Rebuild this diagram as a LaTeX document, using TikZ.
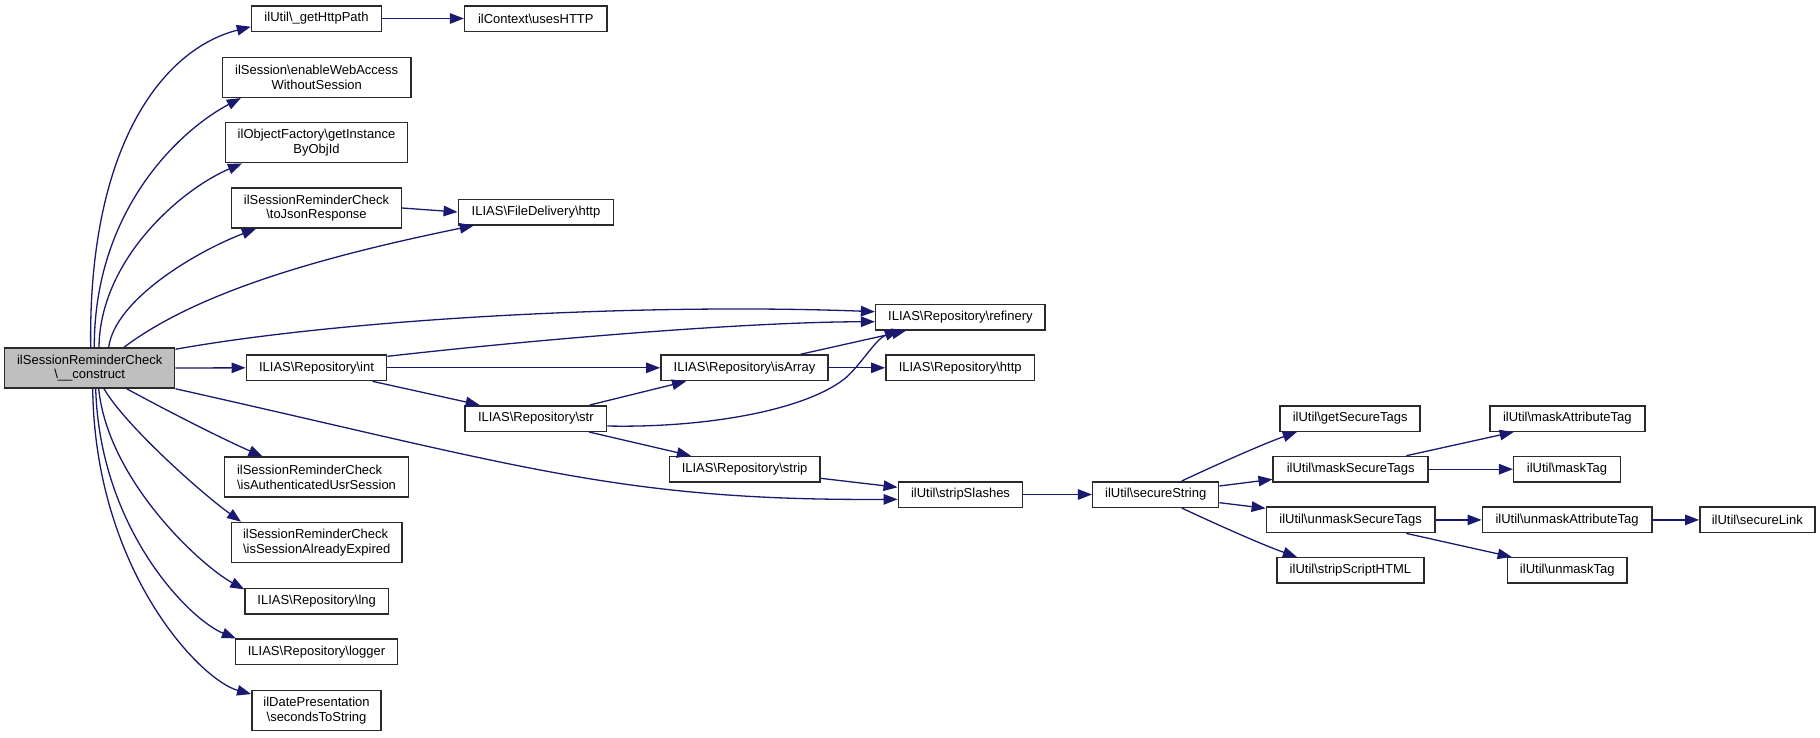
\documentclass[tikz,border=0pt]{standalone}
\usepackage{fontspec}
\setmainfont{Liberation Sans}
\usetikzlibrary{arrows.meta,calc}
\newcommand{\bsl}{\textbackslash{}}
\definecolor{edgec}{HTML}{191970}
\definecolor{mainfill}{HTML}{BFBFBF}
\definecolor{borderc}{HTML}{2A2A2A}
\tikzset{
  fn/.style={draw=borderc, line width=1.5pt, fill=white, inner sep=0pt, rectangle,
    font=\fontsize{13}{14.7}\selectfont, align=center, minimum height=25.5pt},
  fn2/.style={fn, minimum height=40pt},
  mainnode/.style={fn2, fill=mainfill},
  ed/.style={draw=edgec, line width=1.3pt, -{Triangle[length=14pt,width=10.5pt]}, fill=none},
}
\begin{document}
\begin{tikzpicture}[x=1pt,y=-1pt]
\useasboundingbox (0,0) rectangle (1820,737);
% nodes
\node[mainnode, minimum width=170pt] (main) at (89.7,368) {ilSessionReminderCheck\\\bsl\_\_construct};
\node[fn, minimum width=130pt] (ghp) at (316.5,18.5) {ilUtil\bsl\_getHttpPath};
\node[fn, minimum width=142.4pt] (ctx) at (535.8,18.5) {ilContext\bsl{}usesHTTP};
\node[fn2, minimum width=188.2pt] (ews) at (316.7,77.3) {ilSession\bsl{}enableWebAccess\\WithoutSession};
\node[fn2, minimum width=182.3pt] (ofg) at (316.5,142.7) {ilObjectFactory\bsl{}getInstance\\ByObjId};
\node[fn2, minimum width=169.6pt] (tj) at (316.5,208) {ilSessionReminderCheck\\\bsl{}toJsonResponse};
\node[fn, minimum width=155.4pt] (fd) at (536,212) {ILIAS\bsl{}FileDelivery\bsl{}http};
\node[fn, minimum width=169.6pt] (ref) at (960.4,317.2) {ILIAS\bsl{}Repository\bsl{}refinery};
\node[fn, minimum width=140.4pt] (int) at (316.5,367.8) {ILIAS\bsl{}Repository\bsl{}int};
\node[fn, minimum width=167.3pt] (isa) at (744.5,367.8) {ILIAS\bsl{}Repository\bsl{}isArray};
\node[fn, minimum width=148.7pt] (rhttp) at (960.2,367.8) {ILIAS\bsl{}Repository\bsl{}http};
\node[fn, minimum width=141.6pt] (str) at (535.8,418.5) {ILIAS\bsl{}Repository\bsl{}str};
\node[fn, minimum width=150.7pt] (strip) at (744.6,469.2) {ILIAS\bsl{}Repository\bsl{}strip};
\node[fn, minimum width=124.4pt] (ss) at (960.5,494.5) {ilUtil\bsl{}stripSlashes};
\node[fn, minimum width=126pt] (sst) at (1155.7,494.5) {ilUtil\bsl{}secureString};
\node[fn, minimum width=140pt] (gst) at (1350.2,418.5) {ilUtil\bsl{}getSecureTags};
\node[fn, minimum width=155pt] (mst) at (1350.7,469.2) {ilUtil\bsl{}maskSecureTags};
\node[fn, minimum width=168.5pt] (ust) at (1350.6,519.9) {ilUtil\bsl{}unmaskSecureTags};
\node[fn, minimum width=146.7pt] (ssh) at (1350.4,570.4) {ilUtil\bsl{}stripScriptHTML};
\node[fn, minimum width=155pt] (mat) at (1567.3,418.5) {ilUtil\bsl{}maskAttributeTag};
\node[fn, minimum width=106.7pt] (mt) at (1567,469.2) {ilUtil\bsl{}maskTag};
\node[fn, minimum width=169.7pt] (uat) at (1567.1,519.9) {ilUtil\bsl{}unmaskAttributeTag};
\node[fn, minimum width=115.1pt] (sl) at (1757.3,519.9) {ilUtil\bsl{}secureLink};
\node[fn, minimum width=119.4pt] (ut) at (1567.3,570.4) {ilUtil\bsl{}unmaskTag};
\node[fn2, minimum width=183.9pt, align=left] (iau) at (316.5,477.2) {ilSessionReminderCheck\\\bsl{}isAuthenticatedUsrSession};
\node[fn2, minimum width=170.7pt, align=left] (ise) at (316.7,542.5) {ilSessionReminderCheck\\\bsl{}isSessionAlreadyExpired};
\node[fn, minimum width=143.3pt] (lng) at (316.7,601.4) {ILIAS\bsl{}Repository\bsl{}lng};
\node[fn, minimum width=161.7pt] (logger) at (316.5,651.8) {ILIAS\bsl{}Repository\bsl{}logger};
\node[fn2, minimum width=129.3pt] (idp) at (316.5,710.5) {ilDatePresentation\\\bsl{}secondsToString};
% edges from main, upward
\draw[ed] ([xshift=1pt]main.north) .. controls (88,150) and (160,50) .. ([yshift=-8.2pt]ghp.west);
\draw[ed] ([xshift=4.6pt]main.north) .. controls (94,210) and (180,130) .. ([xshift=19pt]ews.south west);
\draw[ed] ([xshift=9.3pt]main.north) .. controls (100,260) and (180,190) .. ([xshift=17.3pt]ofg.south west);
\draw[ed] ([xshift=19pt]main.north) .. controls (115,300) and (195,252) .. ([xshift=25pt]tj.south west);
\draw[ed] ([xshift=34.3pt]main.north) .. controls (200,290) and (330,255) .. ([xshift=16.2pt]fd.south west);
\draw[ed] ([yshift=-2pt]main.north east) .. controls (350,318) and (650,303) .. ([yshift=5.5pt]ref.west);
\draw[ed] (main.east) -- (int.west);
% edges from main, downward
\draw[ed] ([xshift=37pt]main.south) .. controls (175,415) and (225,440) .. ([xshift=38.7pt]iau.north west);
\draw[ed] ([xshift=14.3pt]main.south) .. controls (125,425) and (200,492) .. ([xshift=10.4pt]ise.north west);
\draw[ed] ([xshift=9pt]main.south) .. controls (108,480) and (200,565) .. ([yshift=-1.5pt]lng.north west);
\draw[ed] ([xshift=6pt]main.south) .. controls (100,530) and (190,620) .. ([xshift=1pt]logger.north west);
\draw[ed] ([xshift=3pt]main.south) .. controls (95,570) and (200,680) .. ([yshift=-4.3pt]idp.north west);
\draw[ed] (main.south east) .. controls (520,466) and (620,501) .. ([yshift=-4.8pt]ss.west);
% other edges
\draw[ed] (ghp.east) -- (ctx.west);
\draw[ed] (tj.east) -- (fd.west);
\draw[ed] ([yshift=-2pt]int.north east) .. controls (550,338) and (750,322) .. ([yshift=-4.5pt]ref.west);
\draw[ed] (int.east) -- (isa.west);
\draw[ed] ([xshift=-15pt]int.south east) -- ([xshift=15.4pt]str.north west);
\draw[ed] ([xshift=-17.6pt]str.north east) -- ([xshift=26pt]isa.south west);
\draw[ed] ([xshift=-28.5pt]isa.north east) -- ([xshift=31pt]ref.south west);
\draw[ed] ([yshift=-7.5pt]str.east) .. controls (700,428) and (800,412) .. (843,380) .. controls (860,367) and (875,339) .. ([xshift=24pt]ref.south west);
\draw[ed] (isa.east) -- (rhttp.west);
\draw[ed] ([xshift=-18.3pt]str.south east) -- ([xshift=22.4pt]strip.north west);
\draw[ed] ([yshift=-9.1pt]strip.east) -- ([yshift=7.2pt]ss.west);
\draw[ed] (ss.east) -- (sst.west);
\draw[ed] ([xshift=26pt]sst.north) .. controls (1205,470) and (1260,445) .. ([xshift=17.4pt]gst.south west);
\draw[ed] ([yshift=8.5pt]sst.east) -- ([yshift=-10.1pt]mst.west);
\draw[ed] ([yshift=-8.2pt]sst.east) -- ([yshift=11.6pt]ust.west);
\draw[ed] ([xshift=26pt]sst.south) .. controls (1205,519) and (1260,544) .. ([xshift=20.6pt]ssh.north west);
\draw[ed] ([xshift=-22.6pt]mst.north east) -- ([xshift=24.6pt]mat.south west);
\draw[ed] (mst.east) -- (mt.west);
\draw[ed] (ust.east) -- (uat.west);
\draw[ed] ([xshift=-29.3pt]ust.south east) -- ([xshift=4.8pt]ut.north west);
\draw[ed] (uat.east) -- (sl.west);
\end{tikzpicture}
\end{document}
